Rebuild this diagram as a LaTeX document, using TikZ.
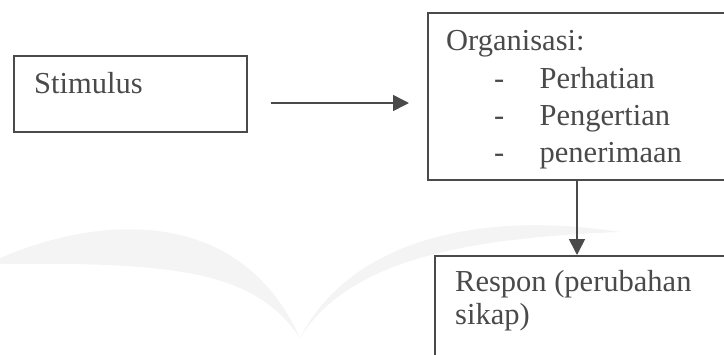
\documentclass[tikz,border=0pt]{standalone}
\usepackage{fontspec}
\setmainfont{Liberation Serif}
\usetikzlibrary{arrows.meta}
\definecolor{inkgray}{HTML}{4A4A4A}
\definecolor{wmgray}{HTML}{F4F4F4}

\begin{document}
\begin{tikzpicture}
  [x=1pt,y=-1pt
  ,box/.style={draw=inkgray,line width=1.6pt,rectangle,inner sep=0pt,anchor=north west}
  ,txt/.style={text=inkgray,anchor=base west,inner sep=0pt,font=\fontsize{30.5}{33}\selectfont}
  ,arr/.style={draw=inkgray,line width=1.6pt,-{Triangle[length=16pt,width=16pt]}}
  ,wmark/.style={fill=wmgray}
  ]
    \useasboundingbox (0,0) rectangle (724,354);
    \clip (0,0) rectangle (724,354);
    % faint watermark
    \fill[wmark] (0,258) .. controls (100,215) and (240,205) .. (300,338) .. controls (255,272) and (180,262) .. (0,264) -- cycle;
    \fill[wmark] (300,338) .. controls (350,240) and (480,210) .. (620,232) .. controls (470,238) and (350,258) .. (300,338) -- cycle;

    \node[box,minimum width=233pt,minimum height=76pt] (stim) at (13,55) {};
    \node[box,minimum width=320pt,minimum height=167pt] (org) at (427,12) {};
    \node[box,minimum width=310pt,minimum height=120pt] (resp) at (434,255) {};

    \node[txt] (stimtxt) at (34,93.3) {Stimulus};
    \node[txt] (orgtxt) at (446,50.7) {Organisasi:};
    \foreach \w [count=\k] in {Perhatian,Pengertian,penerimaan}{
      \node[txt] (dash\k) at (494,50.7+37.3*\k) {-};
      \node[txt] (item\k) at (539.5,50.7+37.3*\k) {\w};
    }
    \node[txt] (resptxt1) at (455,291) {Respon (perubahan};
    \node[txt] (resptxt2) at (455,324) {sikap)};

    \coordinate (drop) at ([xshift=150pt]org.south west);
    \draw[arr,shorten <=23pt,shorten >=18pt] (stim.east |- 0,103) -- (org.west |- 0,103);
    \draw[arr] (drop) -- (drop |- resp.north);
\end{tikzpicture}
\end{document}
